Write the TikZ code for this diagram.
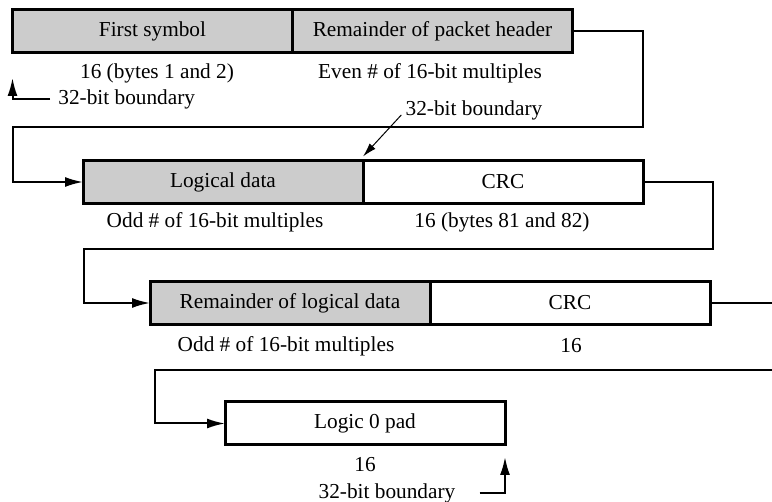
\documentclass[tikz,border=0pt]{standalone}
\usepackage{fontspec}
\setmainfont{Liberation Serif}
\usetikzlibrary{calc,positioning,arrows.meta}
\tikzset{
	field/.style={draw, line width=1.5pt, minimum width=140pt, minimum height=21.5pt, inner sep=0pt, outer sep=0pt, font=\fontsize{10.65}{12}\selectfont},
	shaded/.style={fill=black!20},
	note/.style={inner sep=0pt, font=\fontsize{10.65}{12}\selectfont},
	link/.style={line width=1pt},
	tip/.style={-{Latex[length=9pt,width=5pt]}},
	pointer/.style={line width=0.5pt, -{Latex[length=7pt,width=4pt]}},
}

\begin{document}
\begin{tikzpicture}[x=0.5pt, y=-0.5pt]
			%%%%% START %%%%%
			\useasboundingbox (0,0) rectangle (772,502);
			
			% packet fields
			\node[field, shaded] (first) at (152.5,31.5) {First symbol};
			\node[field, shaded, right=0pt of first] (hdr) {Remainder of packet header};
			
			\node[field, shaded] (logic) at (223,182) {Logical data};
			\node[field, right=0pt of logic] (crc1) {CRC};
			
			\node[field, shaded] (rest) at (290,303) {Remainder of logical data};
			\node[field, right=0pt of rest] (crc2) {CRC};
			
			\node[field] (pad) at (365,423.5) {Logic 0 pad};
			
			% sizes
			\node[note] (szfirst) at (157,73) {16 (bytes 1 and 2)};
			\node[note] (szhdr) at (430,73) {Even \# of 16-bit multiples};
			\node[note] (szlogic) at (215,222) {Odd \# of 16-bit multiples};
			\node[note] (szcrc1) at (502,222) {16 (bytes 81 and 82)};
			\node[note] (szrest) at (286,346) {Odd \# of 16-bit multiples};
			\node[note] (szcrc2) at (571,346) {16};
			\node[note] (szpad) at (365,465) {16};
			
			% boundaries
			\node[note, anchor=west] (bnd1) at (58,99) {32-bit boundary};
			\draw[link, tip] ([xshift=-4pt]bnd1.west) -| ($(first.south west)+(0,25)$);
			
			\node[note] (bnd2) at (474,110) {32-bit boundary};
			\draw[pointer] ([shift={(-2pt,-2.5pt)}]bnd2.west) -- ($(logic.north east)+(0,-4)$);
			
			\node[note] (bnd3) at (387,493) {32-bit boundary};
			\draw[link, tip] ([xshift=12pt]bnd3.east) -| ($(pad.south east)+(0,12)$);
			
			% wrap-around lines
			\coordinate (wrapA) at (772,303);
			\coordinate (wrapB) at (772,370);
			
			\draw[link, tip] (hdr.east) -- ++(70,0) -- ++(0,95.5) -| ($(logic.west)+(-70,0)$) -- (logic.west);
			\draw[link, tip] (crc1.east) -- ++(70,0) -- ++(0,67) -| ($(rest.west)+(-66,0)$) -- (rest.west);
			\draw[link] (crc2.east) -- (wrapA);
			\draw[link, tip] (wrapB) -| ($(pad.west)+(-70,0)$) -- (pad.west);
			
			%%%%% END %%%%%
\end{tikzpicture}
\end{document}
